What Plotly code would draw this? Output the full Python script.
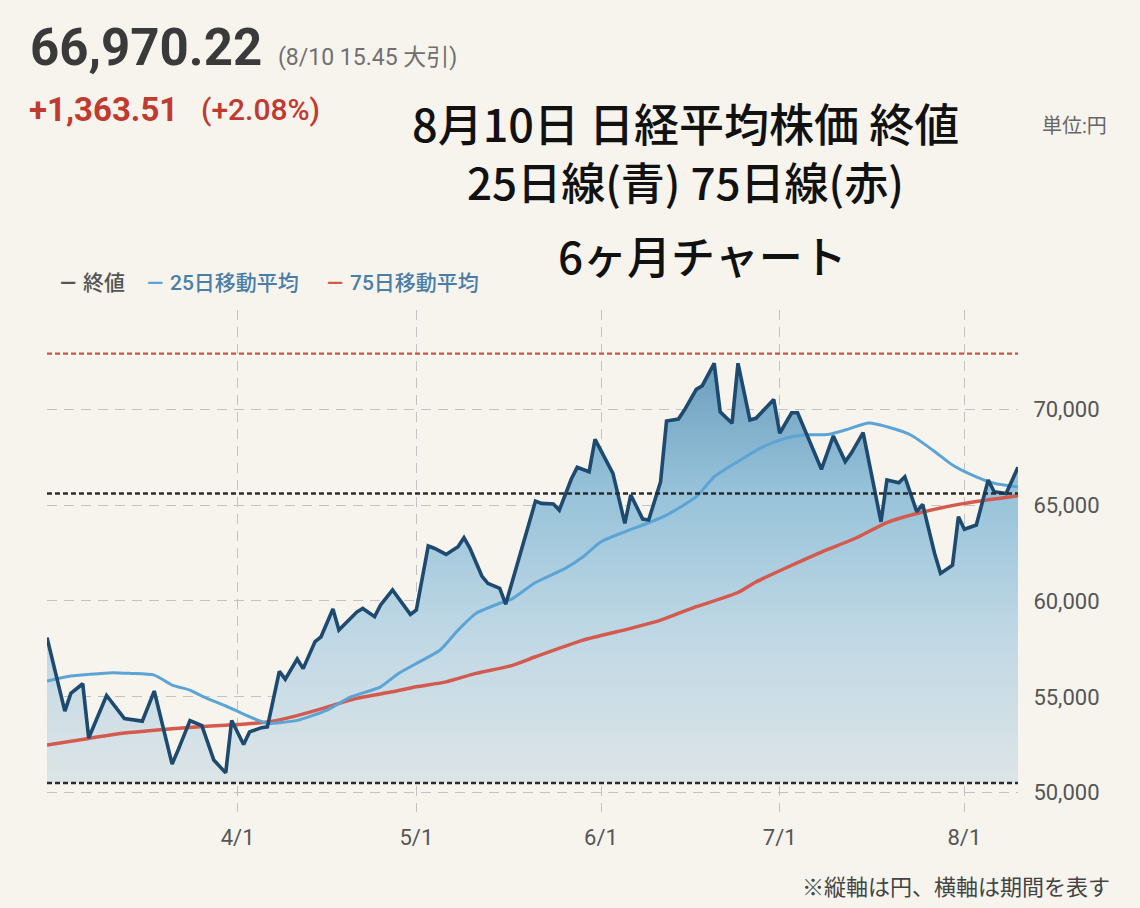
import plotly.graph_objects as go

# 日経平均 終値 (2/29 - 8/10)
close_dates = [
    "2024-02-29", "2024-03-03", "2024-03-04", "2024-03-06", "2024-03-07", "2024-03-09", "2024-03-10", "2024-03-13", "2024-03-16", "2024-03-18",
    "2024-03-21", "2024-03-22", "2024-03-24", "2024-03-26", "2024-03-28", "2024-03-30", "2024-03-31", "2024-04-02", "2024-04-03", "2024-04-05",
    "2024-04-06", "2024-04-08", "2024-04-09", "2024-04-11", "2024-04-12", "2024-04-14", "2024-04-15", "2024-04-17", "2024-04-18", "2024-04-21",
    "2024-04-22", "2024-04-24", "2024-04-25", "2024-04-27", "2024-04-30", "2024-05-01", "2024-05-03", "2024-05-04", "2024-05-06", "2024-05-08",
    "2024-05-09", "2024-05-10", "2024-05-12", "2024-05-13", "2024-05-15", "2024-05-16", "2024-05-21", "2024-05-22", "2024-05-24", "2024-05-25",
    "2024-05-27", "2024-05-28", "2024-05-30", "2024-05-31", "2024-06-03", "2024-06-05", "2024-06-06", "2024-06-08", "2024-06-09", "2024-06-11",
    "2024-06-12", "2024-06-14", "2024-06-15", "2024-06-17", "2024-06-18", "2024-06-20", "2024-06-21", "2024-06-23", "2024-06-24", "2024-06-26",
    "2024-06-27", "2024-06-30", "2024-07-01", "2024-07-03", "2024-07-04", "2024-07-08", "2024-07-10", "2024-07-12", "2024-07-13", "2024-07-15",
    "2024-07-18", "2024-07-19", "2024-07-21", "2024-07-22", "2024-07-24", "2024-07-25", "2024-07-27", "2024-07-28", "2024-07-30", "2024-07-31",
    "2024-08-01", "2024-08-03", "2024-08-05", "2024-08-06", "2024-08-08", "2024-08-10",
]
close_values = [
    58090, 54250, 55180, 55680, 52850, 54310, 55070, 53860, 53730, 55300,
    51490, 52220, 53760, 53500, 51700, 51030, 53760, 52510, 53170, 53390,
    53430, 56330, 55920, 56970, 56470, 57880, 58130, 59580, 58480, 59420,
    59610, 59180, 59790, 60570, 59300, 59530, 62870, 62750, 62430, 62830,
    63300, 62750, 61300, 60920, 60660, 59830, 65210, 65090, 65060, 64740,
    66350, 66970, 66740, 68430, 66660, 64050, 65530, 64270, 64220, 66220,
    69390, 69490, 69960, 71040, 71230, 72400, 69870, 69270, 72400, 69440,
    69530, 70510, 68750, 69820, 69820, 66870, 68610, 67270, 67700, 68780,
    64130, 66310, 66170, 66480, 64660, 65040, 62480, 61440, 61870, 64390,
    63740, 63960, 66310, 65700, 65606.71, 66970.22,
]

# 25日移動平均
ma25_dates = [
    "2024-02-29", "2024-03-04", "2024-03-07", "2024-03-11", "2024-03-14", "2024-03-18", "2024-03-21", "2024-03-24", "2024-03-26", "2024-03-30",
    "2024-04-02", "2024-04-05", "2024-04-06", "2024-04-11", "2024-04-16", "2024-04-20", "2024-04-25", "2024-04-28", "2024-05-01", "2024-05-05",
    "2024-05-08", "2024-05-11", "2024-05-15", "2024-05-17", "2024-05-21", "2024-05-26", "2024-05-29", "2024-06-01", "2024-06-05", "2024-06-09",
    "2024-06-12", "2024-06-17", "2024-06-20", "2024-06-24", "2024-06-28", "2024-07-02", "2024-07-05", "2024-07-09", "2024-07-12", "2024-07-16",
    "2024-07-19", "2024-07-23", "2024-07-27", "2024-07-30", "2024-08-03", "2024-08-06", "2024-08-10",
]
ma25_values = [
    55820, 56080, 56170, 56260, 56220, 56130, 55610, 55350, 55040, 54520,
    54100, 53710, 53610, 53770, 54310, 54990, 55520, 56220, 56740, 57440,
    58480, 59350, 59880, 60100, 60960, 61700, 62310, 63090, 63610, 64080,
    64480, 65440, 66480, 67280, 68010, 68490, 68660, 68680, 68920, 69290,
    69090, 68660, 67800, 67090, 66470, 66140, 65950,
]

# 75日移動平均
ma75_dates = [
    "2024-02-29", "2024-03-07", "2024-03-13", "2024-03-18", "2024-03-25", "2024-03-30", "2024-04-06", "2024-04-11", "2024-04-16", "2024-04-21",
    "2024-04-27", "2024-05-01", "2024-05-06", "2024-05-11", "2024-05-17", "2024-05-21", "2024-05-29", "2024-06-06", "2024-06-11", "2024-06-17",
    "2024-06-24", "2024-06-27", "2024-07-02", "2024-07-08", "2024-07-14", "2024-07-19", "2024-07-25", "2024-08-01", "2024-08-10",
]
ma75_values = [
    52480, 52830, 53110, 53260, 53430, 53520, 53680, 54020, 54460, 54920,
    55260, 55520, 55780, 56220, 56630, 57090, 57960, 58570, 59000, 59700,
    60440, 60990, 61720, 62550, 63310, 64090, 64640, 65090, 65490,
]

high_line = 72900
prev_close_line = 65606.71
low_line = 50500

tick_dates = ["2024-04-01", "2024-05-01", "2024-06-01", "2024-07-01", "2024-08-01"]
tick_labels = ["4/1", "5/1", "6/1", "7/1", "8/1"]
y_ticks = [50000, 55000, 60000, 65000, 70000]

W, H = 1140, 908
L, R, T, B = 47, 122, 310, 96
BG = "#f6f4ed"


def pos(x, y):
    # pixel -> paper
    return (x - L) / (W - L - R), (H - B - y) / (H - T - B)


fig = go.Figure()

# 塗りの下端
fig.add_trace(go.Scatter(x=close_dates, y=[low_line] * len(close_dates), mode="lines",
                         line=dict(width=0), hoverinfo="skip", showlegend=False))
fig.add_trace(go.Scatter(x=close_dates, y=close_values, mode="lines", fill="tonexty",
                         line=dict(width=0), hoverinfo="skip", showlegend=False,
                         fillgradient=dict(type="vertical", start=low_line, stop=max(close_values),
                                           colorscale=[[0, "rgb(221,229,231)"], [0.35, "rgb(192,216,229)"],
                                                       [0.7, "rgb(150,194,217)"], [1, "rgb(108,158,190)"]])))
fig.add_trace(go.Scatter(x=ma75_dates, y=ma75_values, mode="lines", name="75日移動平均",
                         line=dict(color="#d45a4e", width=3.5, shape="spline", smoothing=0.6)))
fig.add_trace(go.Scatter(x=ma25_dates, y=ma25_values, mode="lines", name="25日移動平均",
                         line=dict(color="#5ca4d6", width=3, shape="spline", smoothing=0.6)))
fig.add_trace(go.Scatter(x=close_dates, y=close_values, mode="lines", name="終値",
                         line=dict(color="#1d4a6e", width=3.6)))

fig.add_hline(y=high_line, line=dict(color="#c9544a", width=2.2, dash="5px,3px"))
fig.add_hline(y=prev_close_line, line=dict(color="#2b2b2b", width=2.6, dash="5px,3px"))
fig.add_hline(y=low_line, line=dict(color="#2b2b2b", width=2.6, dash="5px,3px"))

annotations = []


def note(text, x, y, size, color, xanchor="left", family="Roboto, Noto Sans CJK JP", weight=None):
    px, py = pos(x, y)
    f = dict(size=size, color=color, family=family)
    if weight:
        f["weight"] = weight
    annotations.append(dict(text=text, x=px, y=py, xref="paper", yref="paper", xanchor=xanchor,
                            yanchor="middle", showarrow=False, font=f))


note("66,970.22", 28, 47, 51, "#3a3a3a", weight="bold")
note("(8/10 15.45 大引)", 276, 57, 23, "#707070")
note("+1,363.51", 27, 110, 33, "#c13a30", weight="bold")
note("(+2.08%)", 199, 110, 30, "#c13a30", weight=500)
note("8月10日 日経平均株価 終値", 685, 122, 45, "#111111", xanchor="center", family="Noto Sans CJK JP", weight=500)
note("25日線(青) 75日線(赤)", 685, 181, 44, "#111111", xanchor="center", family="Noto Sans CJK JP", weight=500)
note("6ヶ月チャート", 702, 255, 44, "#111111", xanchor="center", family="Noto Sans CJK JP", weight=500)
note("単位:円", 1040, 126, 20, "#666666")

# 凡例
note("<b>—</b>", 58, 283, 21, "#555555")
note("終値", 81, 283, 21, "#555555", weight=500)
note("<b>—</b>", 145, 283, 21, "#5ca4d6")
note("25日移動平均", 168, 283, 21, "#4b7ea6", weight=500)
note("<b>—</b>", 325, 283, 21, "#d45a4e")
note("75日移動平均", 348, 283, 21, "#4b7ea6", weight=500)

note("※縦軸は円、横軸は期間を表す", 1112, 887, 22, "#444444", xanchor="right")

fig.update_layout(
    width=W, height=H,
    margin=dict(l=L, r=R, t=T, b=B),
    paper_bgcolor=BG, plot_bgcolor=BG,
    showlegend=False,
    font=dict(family="Roboto, Noto Sans CJK JP", color="#555555"),
    annotations=annotations,
)
fig.update_xaxes(
    type="date", range=["2024-02-29", "2024-08-10"],
    tickvals=tick_dates, ticktext=tick_labels,
    showgrid=True, gridcolor="#c2c2c2", gridwidth=1, griddash="10px,7px",
    zeroline=False, showline=False,
    ticks="outside", ticklen=6, tickcolor=BG,
    tickfont=dict(size=22, color="#555555"),
)
fig.update_yaxes(
    side="right", range=[48990, 75180],
    tickvals=y_ticks, tickformat=",",
    showgrid=True, gridcolor="#c2c2c2", gridwidth=1, griddash="10px,7px",
    zeroline=False, showline=False,
    ticks="outside", ticklen=10, tickcolor=BG,
    tickfont=dict(size=22, color="#555555"),
)

fig.write_html("out.html", config={"displayModeBar": False},
               post_script="document.body.style.margin='0';document.body.style.overflow='hidden';")
